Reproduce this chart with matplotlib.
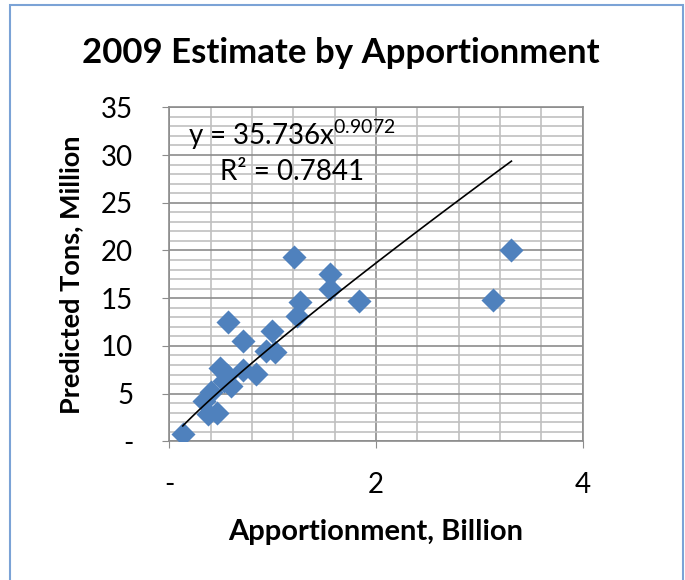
import numpy as np
import matplotlib
matplotlib.use("Agg")
import matplotlib.pyplot as plt
from matplotlib.patches import Rectangle

plt.rcParams['font.family'] = ['Lato', 'DejaVu Sans']
plt.rcParams['mathtext.fontset'] = 'custom'
plt.rcParams['mathtext.rm'] = 'Lato'

# apportionment (billion) vs predicted tons (million)
apportionment = [0.13, 0.37, 0.46, 0.34, 0.40, 0.60, 0.49, 0.56, 0.71, 0.84, 0.94,
                 1.02, 0.71, 0.57, 0.99, 1.21, 1.24, 1.26, 1.55, 1.55, 1.84, 3.13,
                 3.31, 0.53]
tons = [0.8, 2.9, 3.0, 4.2, 5.2, 5.8, 7.7, 7.0, 7.5, 7.1, 9.5,
        9.4, 10.5, 12.5, 11.6, 19.3, 13.1, 14.6, 17.5, 16.0, 14.7, 14.8,
        20.0, 6.3]
y_ticks = [0, 5, 10, 15, 20, 25, 30, 35]
y_labels = ['-', '5', '10', '15', '20', '25', '30', '35']
x_ticks = [0, 2, 4]
x_labels = ['-', '2', '4']

x = np.array(apportionment)
y = np.array(tons)

# power trendline fitted in log space
b, a = np.polyfit(np.log(x), np.log(y), 1)
xs = np.linspace(x.min(), x.max(), 100)
ys = np.exp(a) * xs ** b

fig = plt.figure(figsize=(6.85, 5.8), dpi=100)
ax = fig.add_axes([0.2472, 0.2391, 0.6035, 0.5759])

grid_minor = '#C0C0C0'
grid_major = '#8C8C8C'
ax.set_xticks(np.arange(0, 4.01, 0.4), minor=True)
ax.set_yticks(np.arange(0, 35.01, 1), minor=True)
ax.grid(which='minor', color=grid_minor, linewidth=1.2, zorder=0)
ax.grid(which='major', color=grid_major, linewidth=1.2, zorder=0)
ax.set_axisbelow(True)
ax.tick_params(which='minor', length=0)

ax.scatter(x, y, marker='D', s=150, color='#4F81BD', zorder=3, linewidths=0)
ax.plot(xs, ys, color='black', linewidth=1.2, zorder=4)

ax.set_xlim(0, 4)
ax.set_ylim(0, 35)
ax.set_xticks(x_ticks)
ax.set_xticklabels(x_labels)
ax.set_yticks(y_ticks)
ax.set_yticklabels(y_labels)
ax.tick_params(which='major', length=5, color=grid_major, labelsize=20)
ax.tick_params(axis='y', pad=21)
ax.tick_params(axis='x', pad=17)
for s in ax.spines.values():
    s.set_color(grid_major)
    s.set_linewidth(1.2)

ax.text(0.18, 32.1, r'y = 35.736x$^{0.9072}$', fontsize=20, va='center', ha='left')
ax.text(0.49, 28.2, 'R² = 0.7841', fontsize=20, va='center', ha='left')

ax.set_xlabel('Apportionment, Billion', fontsize=21, fontweight='bold', labelpad=15)
ax.set_ylabel('Predicted Tons, Million', fontsize=19.5, fontweight='bold', labelpad=13)
fig.text(0.497, 0.908, '2009 Estimate by Apportionment', fontsize=25,
         fontweight='bold', ha='center', va='center')

fig.patches.append(Rectangle((10 / 685, -0.05), 673 / 685, 1.05 - 5 / 580,
                             transform=fig.transFigure, fill=False,
                             edgecolor='#7BA3D6', linewidth=1.5))

fig.savefig('out.png', dpi=100)
